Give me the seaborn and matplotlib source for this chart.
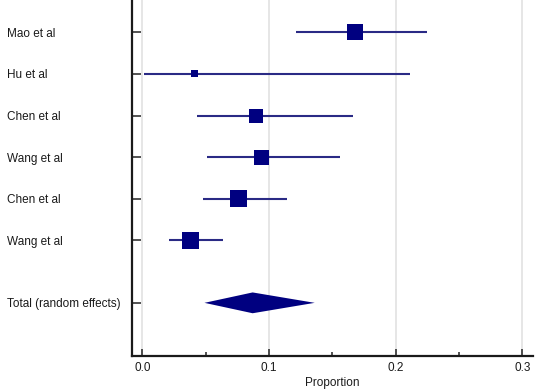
import numpy as np
import pandas as pd
import matplotlib as mpl
mpl.use('Agg')
import matplotlib.pyplot as plt
import seaborn as sns

studies = ['Mao et al', 'Hu et al', 'Chen et al', 'Wang et al', 'Chen et al', 'Wang et al']
est = [0.168, 0.041, 0.090, 0.094, 0.076, 0.038]
lo = [0.121, 0.001, 0.043, 0.051, 0.048, 0.021]
hi = [0.225, 0.211, 0.166, 0.156, 0.114, 0.064]
weight = [19.5, 3.8, 15.0, 17.2, 22.3, 22.2]  # % weight, square area
total_label = 'Total (random effects)'
total_est, total_lo, total_hi = 0.087, 0.049, 0.136

sns.set_style('white')
plt.rcParams['font.family'] = ['Liberation Sans', 'DejaVu Sans']

df = pd.DataFrame({'study': studies, 'est': est, 'lo': lo, 'hi': hi, 'weight': weight})
df['row'] = np.arange(len(df))
total_row = len(df) + 0.5

fig = plt.figure(figsize=(5.36, 3.90), dpi=100)
ax = fig.add_axes([132 / 536, 1 - 355.7 / 390, (533 - 132) / 536, 355.7 / 390])

navy = '#000080'
line_c = '#2a2a85'

ax.hlines(df['row'], df['lo'], df['hi'], color=line_c, lw=1.5, zorder=2)
wmax = max(weight)
sns.scatterplot(data=df, x='est', y='row', size='weight', sizes=(0, 6.76 * wmax),
                size_norm=(0, wmax), marker='s', color=navy, linewidth=0,
                legend=False, ax=ax, zorder=3)
ax.fill([total_lo, total_est, total_hi, total_est],
        [total_row, total_row - 0.25, total_row, total_row + 0.25],
        color=navy, lw=0, zorder=3)

ax.set_xlim(-0.0082, 0.3083)
ax.set_ylim(7.77, -0.776)
ax.set_xticks([0.0, 0.1, 0.2, 0.3])
ax.set_xticklabels(['0.0', '0.1', '0.2', '0.3'])
ax.set_xticks([0.05, 0.15, 0.25], minor=True)
ax.set_yticks(list(df['row']) + [total_row])
ax.set_yticklabels(studies + [total_label])
for t in ax.get_yticklabels():
    t.set_horizontalalignment('left')

ax.grid(axis='x', which='major', color='#e2e2e2', lw=1.2, zorder=0)
ax.set_axisbelow(True)
for s in ['top', 'right']:
    ax.spines[s].set_visible(False)
for s in ['left', 'bottom']:
    ax.spines[s].set_color('#1a1a1a')
    ax.spines[s].set_linewidth(1.6)

ax.tick_params(axis='y', direction='in', length=6.5, width=1.2, color='#333333',
               pad=90, labelsize=8.5, labelcolor='#1a1a1a', left=True)
ax.tick_params(axis='x', which='major', direction='in', length=5, width=1.2,
               color='#333333', pad=4.5, labelsize=8.5, labelcolor='#1a1a1a', bottom=True)
ax.tick_params(axis='x', which='minor', direction='in', length=3, width=1.2,
               color='#333333', bottom=True)
ax.set_xlabel('Proportion', fontsize=8.5, color='#1a1a1a', labelpad=2.5)
ax.set_ylabel('')

fig.savefig('out.png', dpi=100)
